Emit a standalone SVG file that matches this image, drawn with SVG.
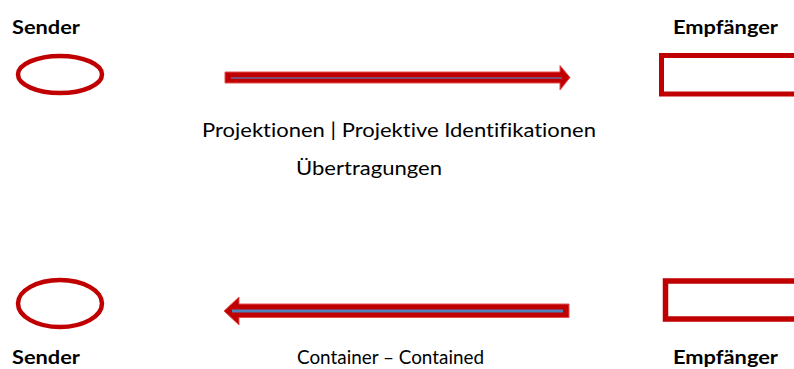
<svg xmlns="http://www.w3.org/2000/svg" width="794" height="369" viewBox="0 0 794 369">
<style>
.lbl{font-family:Lato,"Open Sans","Liberation Sans",sans-serif;font-size:19.5px;fill:#000;font-variant-ligatures:none}
.b{font-weight:bold}
.shape{fill:none;stroke:#C00000}
.arrow{fill:#C00000;stroke:#E05050;stroke-width:1}
</style>
<rect width="794" height="369" fill="#fff"/>
<g id="sender-top">
<text class="lbl b" x="12" y="34" textLength="68" lengthAdjust="spacingAndGlyphs">Sender</text>
<ellipse class="shape" cx="60" cy="74.5" rx="42" ry="18.5" stroke-width="4.5"/>
</g>
<g id="empfaenger-top">
<text class="lbl b" x="673" y="34" textLength="105" lengthAdjust="spacingAndGlyphs">Empfänger</text>
<rect class="shape" x="661.5" y="55.5" width="140" height="38.5" stroke-width="5"/>
</g>
<g id="sender-bottom">
<ellipse class="shape" cx="60" cy="303.5" rx="42" ry="23.5" stroke-width="4.5"/>
<text class="lbl b" x="12" y="364" textLength="68" lengthAdjust="spacingAndGlyphs">Sender</text>
</g>
<g id="empfaenger-bottom">
<rect class="shape" x="665.5" y="281" width="140" height="38" stroke-width="5.5"/>
<text class="lbl b" x="673" y="364" textLength="105" lengthAdjust="spacingAndGlyphs">Empfänger</text>
</g>
<g id="connectors">
<polygon class="arrow" points="225,72 560,72 560,65.5 570,77.5 560,90 560,83 225,83"/>
<line x1="231" y1="78" x2="562" y2="78" stroke="#6A6A9A" stroke-width="1.5"/>
<polygon class="arrow" points="569,304 239,304 239,297 224,311 239,325 239,317.5 569,317.5"/>
<line x1="232" y1="311" x2="563" y2="311" stroke="#4F81BD" stroke-width="3"/>
</g>
<g id="labels">
<text class="lbl" x="202" y="137" textLength="394" lengthAdjust="spacingAndGlyphs">Projektionen | Projektive Identifikationen</text>
<text class="lbl" x="296" y="175" textLength="146" lengthAdjust="spacingAndGlyphs">Übertragungen</text>
<text class="lbl" x="297" y="364" textLength="187" lengthAdjust="spacingAndGlyphs">Container – Contained</text>
</g>
</svg>
